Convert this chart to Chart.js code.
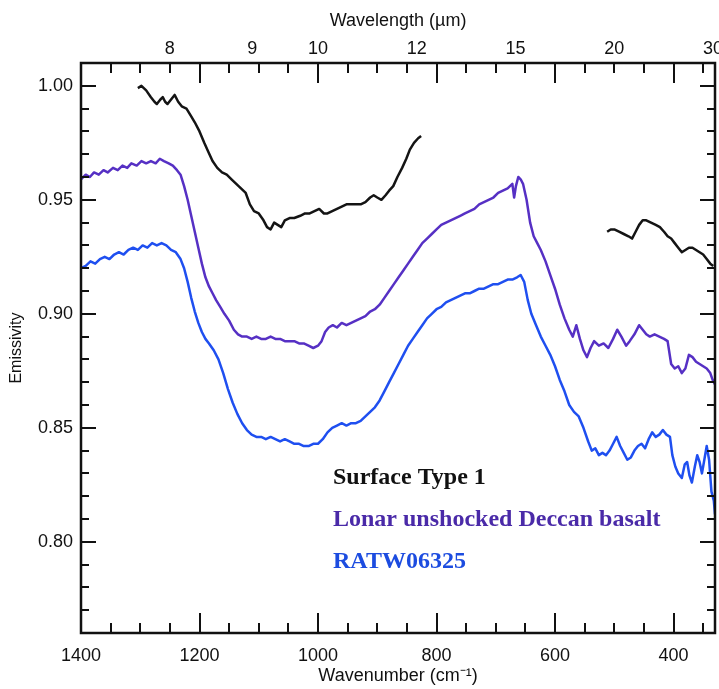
<!DOCTYPE html>
<html>
<head>
<meta charset="utf-8">
<script src="https://cdn.jsdelivr.net/npm/chart.js@4.4.1/dist/chart.umd.min.js"></script>
<style>
  html, body { margin: 0; padding: 0; background: #fff; }
  #wrap { width: 719px; height: 689px; }
</style>
</head>
<body>
<div id="wrap"><canvas id="emissivity-chart" width="719" height="689"></canvas></div>
<script>
// Axis ticks
const WAVENUMBER_TICKS = [1400, 1200, 1000, 800, 600, 400];
const WAVELENGTH_TICKS = [8, 9, 10, 12, 15, 20, 30];
const EMISSIVITY_TICKS = [0.80, 0.85, 0.90, 0.95, 1.00];

// Surface Type 1 (two pieces, null splits them)
const surfaceWn = [1304, 1298, 1290, 1282, 1276, 1272, 1266, 1262, 1258, 1254, 1248, 1242, 1236, 1230, 1222,
  1215, 1208, 1200, 1192, 1185, 1178, 1170, 1162, 1154, 1146, 1138, 1130, 1122, 1115, 1108, 1100, 1092, 1086,
  1080, 1074, 1068, 1062, 1056, 1048, 1040, 1030, 1022, 1014, 1006, 998, 990, 984, 976, 968, 960, 952, 944,
  936, 928, 920, 912, 906, 900, 893, 886, 880, 873, 866, 858, 851, 845, 838, 831, 826,
  700,
  512, 506, 500, 492, 484, 476, 470, 464, 458, 452, 446, 438, 430, 423, 416, 410, 404, 398, 392, 386, 380,
  374, 368, 362, 356, 350, 344, 338, 333];
const surfaceEm = [0.999, 1.000, 0.998, 0.995, 0.993, 0.992, 0.994, 0.995, 0.993, 0.992, 0.994, 0.996, 0.993, 0.991, 0.990,
  0.987, 0.984, 0.980, 0.975, 0.971, 0.967, 0.964, 0.962, 0.961, 0.959, 0.957, 0.955, 0.953, 0.948, 0.945, 0.944, 0.941, 0.938,
  0.937, 0.940, 0.939, 0.938, 0.941, 0.942, 0.942, 0.943, 0.944, 0.944, 0.945, 0.946, 0.944, 0.944, 0.945, 0.946, 0.947, 0.948, 0.948,
  0.948, 0.948, 0.949, 0.951, 0.952, 0.951, 0.950, 0.952, 0.954, 0.956, 0.960, 0.964, 0.968, 0.972, 0.975, 0.977, 0.978,
  null,
  0.936, 0.937, 0.937, 0.936, 0.935, 0.934, 0.933, 0.936, 0.939, 0.941, 0.941, 0.940, 0.939, 0.938, 0.936, 0.934, 0.933, 0.931, 0.929, 0.927, 0.928,
  0.929, 0.929, 0.928, 0.927, 0.926, 0.924, 0.922, 0.921];

// Lonar unshocked Deccan basalt
const lonarWn = [1400, 1392, 1385, 1378, 1370, 1362, 1355, 1346, 1338, 1330, 1322, 1315, 1306, 1298, 1290, 1282,
  1274, 1267, 1260, 1252, 1245, 1238, 1232, 1226, 1220, 1214, 1208, 1202, 1196, 1190, 1184, 1178, 1172, 1165,
  1158, 1150, 1142, 1135, 1128, 1120, 1112, 1104, 1096, 1088, 1080, 1072, 1064, 1056, 1048, 1040, 1032, 1024,
  1016, 1008, 1000, 994, 988, 982, 975, 968, 960, 952, 944, 936, 928, 920, 912, 904, 896, 888, 880, 872, 864,
  856, 848, 840, 832, 824, 816, 808, 800, 792, 784, 776, 768, 760, 752, 744, 736, 728, 720, 712, 704, 696, 688,
  680, 672, 669, 666, 662, 658, 654, 648, 642, 636, 630, 624, 616, 608, 600, 592, 584, 576, 570, 564, 558, 552,
  546, 540, 534, 526, 518, 510, 502, 495, 488, 480, 474, 466, 458, 452, 446, 440, 432, 424, 416, 410, 404, 398,
  392, 386, 380, 374, 368, 362, 356, 350, 344, 338, 334, 330];
const lonarEm = [0.959, 0.961, 0.960, 0.962, 0.961, 0.963, 0.962, 0.964, 0.963, 0.965, 0.964, 0.966, 0.965, 0.967, 0.966, 0.967,
  0.966, 0.968, 0.967, 0.966, 0.965, 0.963, 0.961, 0.956, 0.950, 0.943, 0.936, 0.929, 0.922, 0.916, 0.912, 0.909, 0.906, 0.903,
  0.900, 0.897, 0.893, 0.891, 0.890, 0.890, 0.889, 0.890, 0.889, 0.889, 0.890, 0.889, 0.889, 0.888, 0.888, 0.888, 0.887, 0.887,
  0.886, 0.885, 0.886, 0.888, 0.892, 0.894, 0.895, 0.894, 0.896, 0.895, 0.896, 0.897, 0.898, 0.899, 0.901, 0.902, 0.904, 0.907, 0.910, 0.913, 0.916,
  0.919, 0.922, 0.925, 0.928, 0.931, 0.933, 0.935, 0.937, 0.939, 0.940, 0.941, 0.942, 0.943, 0.944, 0.945, 0.946, 0.948, 0.949, 0.950, 0.951, 0.953, 0.954,
  0.955, 0.957, 0.951, 0.956, 0.960, 0.959, 0.957, 0.950, 0.940, 0.934, 0.931, 0.928, 0.923, 0.917, 0.911, 0.904, 0.898, 0.893, 0.890, 0.895, 0.889, 0.884,
  0.881, 0.885, 0.888, 0.886, 0.887, 0.885, 0.889, 0.893, 0.890, 0.886, 0.888, 0.891, 0.895, 0.893, 0.891, 0.890, 0.891, 0.890, 0.889, 0.888, 0.878, 0.876,
  0.877, 0.874, 0.876, 0.882, 0.881, 0.879, 0.878, 0.877, 0.876, 0.874, 0.871, 0.869];

// RATW06325
const ratwWn = [1400, 1392, 1384, 1376, 1368, 1360, 1352, 1344, 1336, 1328, 1320, 1312, 1304, 1296, 1288, 1280,
  1272, 1264, 1256, 1248, 1240, 1232, 1226, 1220, 1214, 1208, 1202, 1196, 1190, 1184, 1176, 1168, 1160, 1152,
  1144, 1136, 1128, 1120, 1112, 1104, 1096, 1088, 1080, 1072, 1064, 1056, 1048, 1040, 1032, 1024, 1016, 1008,
  1000, 992, 984, 976, 968, 960, 952, 944, 936, 928, 920, 912, 904, 896, 888, 880, 872, 864, 856, 848, 840, 832,
  824, 816, 808, 800, 792, 784, 776, 768, 760, 752, 744, 736, 728, 720, 712, 704, 696, 688, 680, 672, 664, 658,
  652, 646, 640, 632, 624, 616, 608, 600, 592, 584, 576, 568, 560, 552, 544, 538, 532, 526, 520, 514, 508, 502,
  496, 490, 484, 478, 472, 466, 460, 454, 448, 442, 436, 430, 424, 418, 412, 406, 402, 397, 392, 386, 381, 377,
  373, 369, 364, 360, 356, 352, 348, 344, 340, 336, 332, 330];
const ratwEm = [0.920, 0.921, 0.923, 0.922, 0.924, 0.925, 0.924, 0.926, 0.927, 0.926, 0.928, 0.929, 0.928, 0.930, 0.929, 0.931,
  0.930, 0.931, 0.930, 0.928, 0.927, 0.924, 0.920, 0.914, 0.907, 0.901, 0.896, 0.892, 0.889, 0.887, 0.884, 0.880, 0.874, 0.867,
  0.861, 0.856, 0.852, 0.849, 0.847, 0.846, 0.846, 0.845, 0.846, 0.845, 0.844, 0.845, 0.844, 0.843, 0.843, 0.842, 0.842, 0.843,
  0.843, 0.845, 0.848, 0.850, 0.851, 0.852, 0.851, 0.852, 0.852, 0.853, 0.855, 0.857, 0.859, 0.862, 0.866, 0.870, 0.874, 0.878, 0.882, 0.886, 0.889, 0.892,
  0.895, 0.898, 0.900, 0.902, 0.903, 0.905, 0.906, 0.907, 0.908, 0.909, 0.909, 0.910, 0.911, 0.911, 0.912, 0.913, 0.913, 0.914, 0.915, 0.915, 0.916, 0.917,
  0.914, 0.906, 0.900, 0.895, 0.890, 0.886, 0.882, 0.877, 0.871, 0.866, 0.860, 0.857, 0.855, 0.850, 0.844, 0.840, 0.841, 0.838, 0.839, 0.838, 0.840, 0.843,
  0.846, 0.842, 0.839, 0.836, 0.837, 0.840, 0.842, 0.843, 0.841, 0.845, 0.848, 0.846, 0.847, 0.849, 0.847, 0.846, 0.838, 0.833, 0.830, 0.828, 0.834, 0.835,
  0.829, 0.826, 0.833, 0.838, 0.835, 0.830, 0.836, 0.842, 0.836, 0.822, 0.818, 0.812];

const SERIES_NAMES = ['Surface Type 1', 'Lonar unshocked Deccan basalt', 'RATW06325'];
const LINE_COLORS = ['#141414', '#5630c4', '#1f4ff0'];
const TEXT_COLORS = ['#111111', '#4a2aa8', '#1c4ce0'];

const FONT_FAMILY = "'Liberation Sans', Arial, sans-serif";
const TICK_FONT = { family: FONT_FAMILY, size: 18 };
const AXIS_COLOR = '#111111';

function toPoints(wn, em) {
  return wn.map((w, i) => ({ x: w, y: em[i] }));
}

// keep the plot box fixed; no extra room for edge labels
function noEdgePadding(s) {
  s.paddingLeft = 0;
  s.paddingRight = 0;
}

// Inward tick marks on all four sides plus the frame
const inwardTicks = {
  id: 'inwardTicks',
  afterDatasetsDraw(chart) {
    const { ctx, chartArea: a, scales: { x, y } } = chart;
    ctx.save();
    ctx.strokeStyle = AXIS_COLOR;
    ctx.lineWidth = 2;
    ctx.beginPath();
    for (let w = 350; w < 1400; w += 50) {
      const px = Math.round(x.getPixelForValue(w));
      const len = w % 200 === 0 ? 20 : 10;
      ctx.moveTo(px, a.bottom); ctx.lineTo(px, a.bottom - len);
      ctx.moveTo(px, a.top); ctx.lineTo(px, a.top + len);
    }
    for (let i = 77; i <= 100; i++) {
      const py = Math.round(y.getPixelForValue(i / 100));
      const len = i % 5 === 0 ? 15 : 8;
      ctx.moveTo(a.left, py); ctx.lineTo(a.left + len, py);
      ctx.moveTo(a.right, py); ctx.lineTo(a.right - len, py);
    }
    ctx.stroke();
    ctx.lineWidth = 2.5;
    ctx.strokeRect(a.left, a.top, a.right - a.left, a.bottom - a.top);
    ctx.restore();
  }
};

// Coloured series names inside the plot
const seriesNames = {
  id: 'seriesNames',
  afterDraw(chart) {
    const { ctx, chartArea: a } = chart;
    ctx.save();
    ctx.font = "bold 24px 'Liberation Serif', 'Times New Roman', serif";
    ctx.textBaseline = 'alphabetic';
    SERIES_NAMES.forEach((name, i) => {
      ctx.fillStyle = TEXT_COLORS[i];
      ctx.fillText(name, a.left + 252, a.top + 421 + i * 42);
    });
    ctx.restore();
  }
};

new Chart(document.getElementById('emissivity-chart'), {
  type: 'line',
  data: {
    datasets: [
      { label: SERIES_NAMES[0], data: toPoints(surfaceWn, surfaceEm), borderColor: LINE_COLORS[0] },
      { label: SERIES_NAMES[1], data: toPoints(lonarWn, lonarEm), borderColor: LINE_COLORS[1] },
      { label: SERIES_NAMES[2], data: toPoints(ratwWn, ratwEm), borderColor: LINE_COLORS[2] }
    ]
  },
  options: {
    responsive: false,
    animation: false,
    layout: { padding: { left: 0, right: 4, top: 0, bottom: 0 } },
    elements: {
      line: { borderWidth: 2.5, tension: 0, borderJoinStyle: 'round' },
      point: { radius: 0 }
    },
    plugins: {
      legend: { display: false },
      tooltip: { enabled: false }
    },
    scales: {
      x: {
        type: 'linear',
        position: 'bottom',
        min: 330,
        max: 1400,
        reverse: true,
        grid: { display: false, drawTicks: false },
        border: { display: false },
        afterBuildTicks: (s) => { s.ticks = WAVENUMBER_TICKS.map(v => ({ value: v })); },
        afterFit: (s) => { s.height = 56; noEdgePadding(s); },
        ticks: {
          font: TICK_FONT, color: AXIS_COLOR, padding: 12, maxRotation: 0, autoSkip: false,
          callback: (v) => String(v)
        },
        title: {
          display: true,
          text: 'Wavenumber (cm⁻¹)',
          font: { family: FONT_FAMILY, size: 18 },
          color: AXIS_COLOR,
          padding: { top: 0, bottom: 2 }
        }
      },
      x2: {
        type: 'linear',
        position: 'top',
        min: 330,
        max: 1400,
        reverse: true,
        grid: { display: false, drawTicks: false },
        border: { display: false },
        afterBuildTicks: (s) => { s.ticks = WAVELENGTH_TICKS.map(l => ({ value: 10000 / l })); },
        afterFit: (s) => { s.height = 63; noEdgePadding(s); },
        ticks: {
          font: TICK_FONT, color: AXIS_COLOR, padding: 3, maxRotation: 0, autoSkip: false,
          callback: (v) => String(Math.round(10000 / v))
        },
        title: {
          display: true,
          text: 'Wavelength (µm)',
          font: { family: FONT_FAMILY, size: 18 },
          color: AXIS_COLOR,
          padding: { top: 10, bottom: 0 }
        }
      },
      y: {
        type: 'linear',
        min: 0.76,
        max: 1.01,
        grid: { display: false, drawTicks: false },
        border: { display: false },
        afterBuildTicks: (s) => { s.ticks = EMISSIVITY_TICKS.map(v => ({ value: v })); },
        afterFit: (s) => { s.width = 81; },
        ticks: { font: TICK_FONT, color: AXIS_COLOR, padding: 8, callback: (v) => v.toFixed(2) },
        title: {
          display: true,
          text: 'Emissivity',
          font: { family: FONT_FAMILY, size: 16 },
          color: AXIS_COLOR,
          padding: { top: 7, bottom: 0 }
        }
      }
    }
  },
  plugins: [inwardTicks, seriesNames]
});
</script>
</body>
</html>
